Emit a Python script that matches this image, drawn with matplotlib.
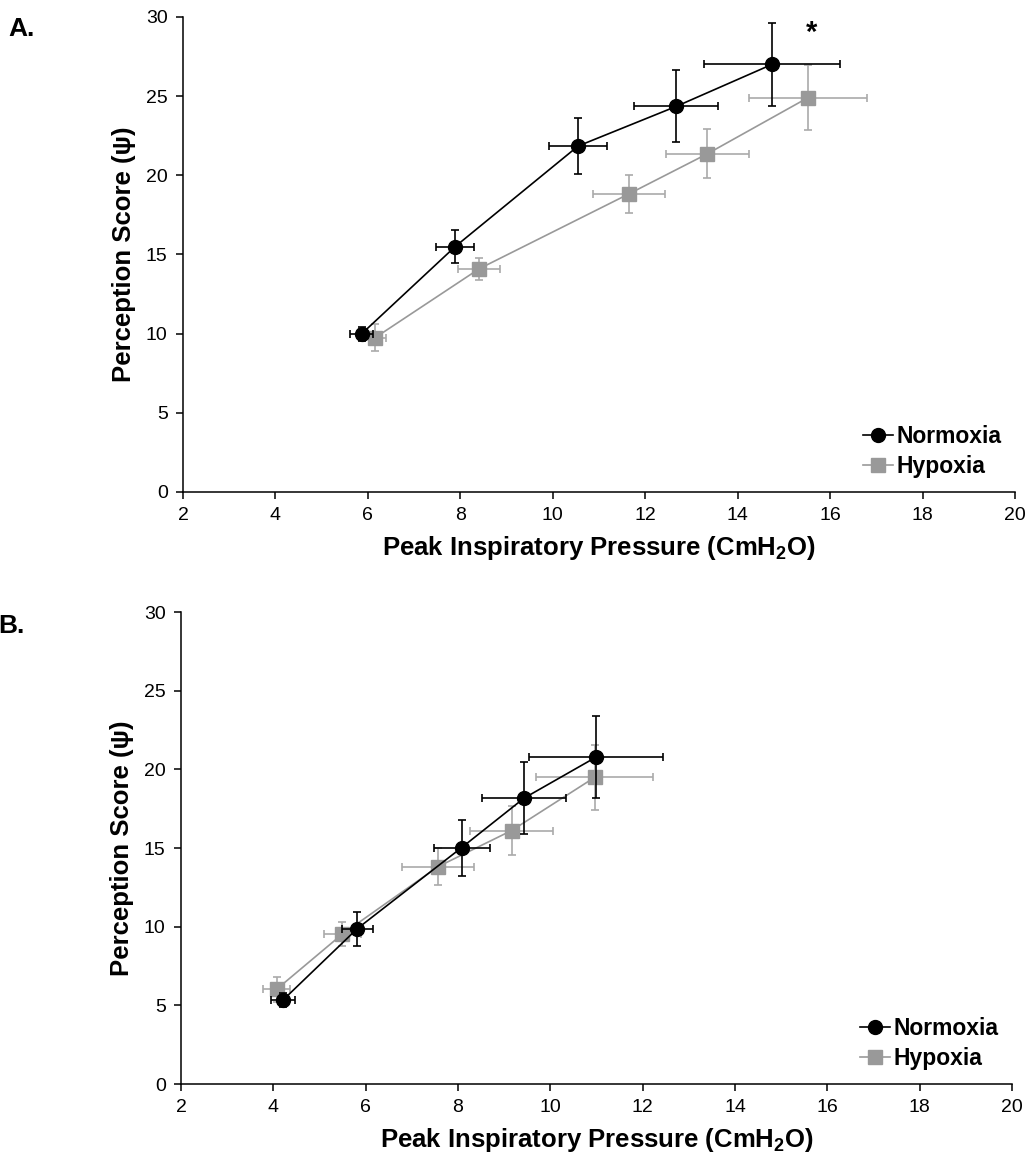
import matplotlib
matplotlib.use('Agg')
import matplotlib.pyplot as plt

plt.rcParams['font.family'] = ['Liberation Sans', 'DejaVu Sans']
plt.rcParams['mathtext.fontset'] = 'custom'
plt.rcParams['mathtext.rm'] = 'Liberation Sans'
plt.rcParams['mathtext.bf'] = 'Liberation Sans:bold'

# Panel A data
a_norm_x = [5.87, 7.89, 10.55, 12.67, 14.74]
a_norm_y = [10.0, 15.5, 21.85, 24.35, 27.0]
a_norm_xerr = [0.25, 0.41, 0.63, 0.91, 1.47]
a_norm_yerr = [0.45, 1.05, 1.75, 2.27, 2.6]

a_hyp_x = [6.16, 8.41, 11.65, 13.34, 15.52]
a_hyp_y = [9.75, 14.1, 18.83, 21.35, 24.9]
a_hyp_xerr = [0.24, 0.45, 0.78, 0.9, 1.27]
a_hyp_yerr = [0.85, 0.7, 1.2, 1.55, 2.05]

# Panel B data
b_norm_x = [4.21, 5.82, 8.08, 9.43, 10.98]
b_norm_y = [5.34, 9.88, 15.03, 18.17, 20.76]
b_norm_xerr = [0.26, 0.33, 0.61, 0.91, 1.45]
b_norm_yerr = [0.45, 1.08, 1.78, 2.28, 2.6]

b_hyp_x = [4.07, 5.49, 7.57, 9.16, 10.96]
b_hyp_y = [6.02, 9.52, 13.82, 16.11, 19.49]
b_hyp_xerr = [0.3, 0.4, 0.78, 0.9, 1.26]
b_hyp_yerr = [0.8, 0.76, 1.19, 1.53, 2.06]

fig = plt.figure(figsize=(10.32, 11.62), dpi=100)

ax_a = fig.add_axes([0.1773, 0.5766, 0.8062, 0.4088])
ax_b = fig.add_axes([0.1754, 0.0671, 0.8052, 0.4062])

panels = [
    (ax_a, a_norm_x, a_norm_y, a_norm_xerr, a_norm_yerr, a_hyp_x, a_hyp_y, a_hyp_xerr, a_hyp_yerr),
    (ax_b, b_norm_x, b_norm_y, b_norm_xerr, b_norm_yerr, b_hyp_x, b_hyp_y, b_hyp_xerr, b_hyp_yerr),
]

for ax, nx, ny, nxe, nye, hx, hy, hxe, hye in panels:
    # hypoxia first so normoxia sits on top
    ax.errorbar(hx, hy, xerr=hxe, yerr=hye, fmt='none', ecolor='#aaaaaa',
                elinewidth=1.2, capsize=3, capthick=1.2, zorder=2)
    ax.plot(hx, hy, color='#999999', lw=1.2, marker='s', ms=9.5,
            markerfacecolor='#999999', markeredgecolor='#999999', label='Hypoxia', zorder=3)
    ax.errorbar(nx, ny, xerr=nxe, yerr=nye, fmt='none', ecolor='black',
                elinewidth=1.2, capsize=3, capthick=1.2, zorder=4)
    ax.plot(nx, ny, color='black', lw=1.2, marker='o', ms=10,
            markerfacecolor='black', markeredgecolor='black', label='Normoxia', zorder=5)

    ax.set_xlim(2, 20)
    ax.set_ylim(0, 30)
    ax.set_xticks(range(2, 21, 2))
    ax.set_yticks(range(0, 31, 5))
    ax.spines['top'].set_visible(False)
    ax.spines['right'].set_visible(False)
    ax.spines['left'].set_linewidth(1.1)
    ax.spines['bottom'].set_linewidth(1.1)
    ax.tick_params(direction='out', length=5, width=1.1, labelsize=14, pad=6)
    ax.set_xlabel('Peak Inspiratory Pressure (CmH$_\\mathbf{2}$O)', fontsize=18.5,
                  fontweight='bold', labelpad=7)
    ax.set_ylabel('Perception Score (ψ)', fontsize=18.5, fontweight='bold', labelpad=7)

    handles, labels = ax.get_legend_handles_labels()
    ax.legend(handles[::-1], labels[::-1], loc='lower right', frameon=False,
              prop={'size': 16.5, 'weight': 'bold'}, handlelength=1.3,
              handletextpad=0.15, labelspacing=0.3, borderaxespad=0.2)

ax_a.text(15.6, 29.0, '*', fontsize=21, fontweight='bold', ha='center', va='center')

fig.text(0.008, 0.975, 'A.', fontsize=19, fontweight='bold', ha='left', va='center')
fig.text(-0.002, 0.461, 'B.', fontsize=19, fontweight='bold', ha='left', va='center')

fig.savefig('out.png', dpi=100)
